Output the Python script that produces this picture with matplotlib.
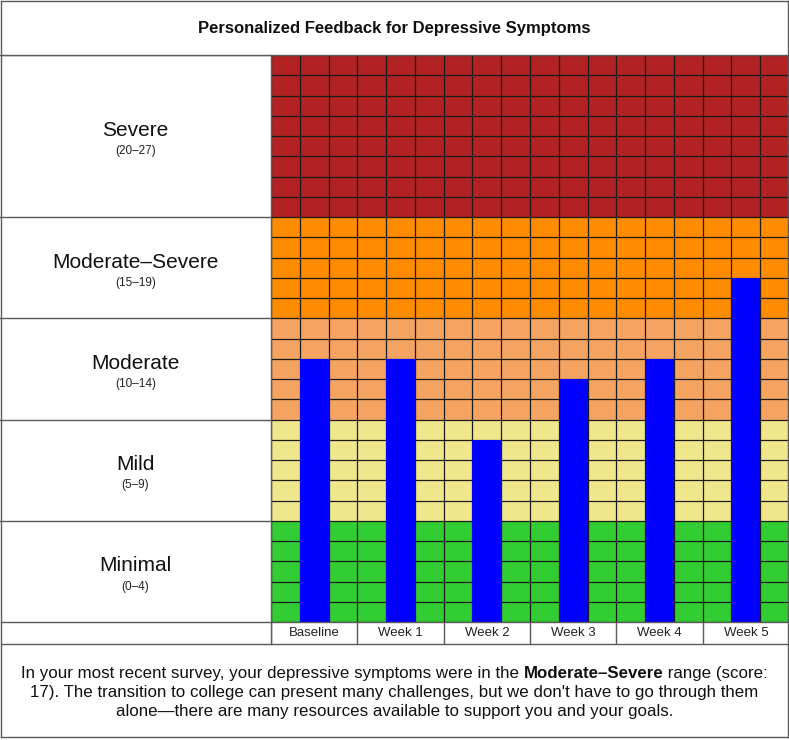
import numpy as np
import matplotlib.pyplot as plt

plt.rcParams['font.family'] = ['Liberation Sans', 'DejaVu Sans']

W, H = 789, 740

weeks = ["Baseline", "Week 1", "Week 2", "Week 3", "Week 4", "Week 5"]
scores = [13, 13, 9, 12, 13, 17]

levels = ["Minimal", "Mild", "Moderate", "Moderate\u2013Severe", "Severe"]
ranges = ["(0\u20134)", "(5\u20139)", "(10\u201314)", "(15\u201319)", "(20\u201327)"]
band_lo = [0, 5, 10, 15, 20]
band_hi = [5, 10, 15, 20, 28]
band_colors = ["#32CD32", "#F0E68C", "#F4A460", "#FF8C00", "#B22222"]

title = "Personalized Feedback for Depressive Symptoms"
msg_pre = "In your most recent survey, your depressive symptoms were in the "
msg_bold = "Moderate\u2013Severe"
msg_post = " range (score:"
msg_rest = ["17). The transition to college can present many challenges, but we don't have to go through them",
            "alone\u2014there are many resources available to support you and your goals."]

border = "#5a5a5a"


def fx(px):
    return px / W


def fy(py):
    return 1 - py / H


def main():
    fig = plt.figure(figsize=(W / 100, H / 100), dpi=100)
    fig.patch.set_facecolor("white")

    top, bot = 55, 622
    # grid of coloured bands + bars
    ax = fig.add_axes([fx(271), fy(bot), (W - 271) / W, (bot - top) / H])
    ax.set_xlim(0, 18)
    ax.set_ylim(0, 28)
    for lo, hi, c in zip(band_lo, band_hi, band_colors):
        ax.axhspan(lo, hi, color=c, zorder=0, lw=0)
    ax.set_xticks(np.arange(19))
    ax.set_yticks(np.arange(29))
    ax.set_axisbelow(True)
    ax.grid(color="#1a1a1a", lw=0.9)
    ax.tick_params(length=0, labelbottom=False, labelleft=False)
    for s in ax.spines.values():
        s.set_visible(False)
    x = np.arange(len(weeks)) * 3 + 1.5
    ax.bar(x, scores, width=1, color="#0000FF", zorder=3)

    # left label column
    lax = fig.add_axes([0, fy(bot), fx(271), (bot - top) / H])
    lax.set_xlim(0, 1)
    lax.set_ylim(0, 28)
    lax.axis("off")
    for lo, hi, name, rng in zip(band_lo, band_hi, levels, ranges):
        mid = (lo + hi) / 2
        lax.text(0.5, mid + 0.27, name, ha="center", va="center", fontsize=15, color="#111111")
        lax.text(0.5, mid - 0.75, rng, ha="center", va="center", fontsize=8.5, color="#222222")
        lax.axhline(hi, color=border, lw=1)

    # week label row
    wax = fig.add_axes([fx(271), fy(644), (W - 271) / W, 22 / H])
    wax.set_xlim(0, 18)
    wax.set_ylim(0, 1)
    wax.axis("off")
    for i, wk in enumerate(weeks):
        wax.text(x[i], 0.5, wk, ha="center", va="center", fontsize=9.5, color="#222222")
        wax.axvline(i * 3, color=border, lw=1)

    # borders
    def hline(py, x0=1, x1=788):
        fig.add_artist(plt.Line2D([fx(x0), fx(x1)], [fy(py), fy(py)], color=border, lw=1))

    def vline(px, y0, y1):
        fig.add_artist(plt.Line2D([fx(px), fx(px)], [fy(y0), fy(y1)], color=border, lw=1))

    hline(1)
    hline(55)
    hline(622)
    hline(644)
    hline(737)
    vline(1, 1, 737)
    vline(788, 1, 737)
    vline(271, 55, 644)

    fig.text(0.5, fy(28.5), title, ha="center", va="center", fontsize=12, fontweight="bold",
             color="#111111")

    # feedback text, first line mixes normal and bold
    fs = 12.2
    y1 = fy(678)
    t1 = fig.text(0, y1, msg_pre, ha="left", va="baseline", fontsize=fs, color="#111111")
    t2 = fig.text(0, y1, msg_bold, ha="left", va="baseline", fontsize=fs, fontweight="bold",
                  color="#111111")
    t3 = fig.text(0, y1, msg_post, ha="left", va="baseline", fontsize=fs, color="#111111")
    r = fig.canvas.get_renderer()
    w1 = t1.get_window_extent(r).width
    w2 = t2.get_window_extent(r).width
    w3 = t3.get_window_extent(r).width
    start = (W - (w1 + w2 + w3)) / 2
    t1.set_x(fx(start))
    t2.set_x(fx(start + w1))
    t3.set_x(fx(start + w1 + w2))
    fig.text(0.5, fy(697), msg_rest[0], ha="center", va="baseline", fontsize=fs, color="#111111")
    fig.text(0.5, fy(716), msg_rest[1], ha="center", va="baseline", fontsize=fs, color="#111111")

    fig.savefig("out.png", dpi=100)


if __name__ == "__main__":
    main()
